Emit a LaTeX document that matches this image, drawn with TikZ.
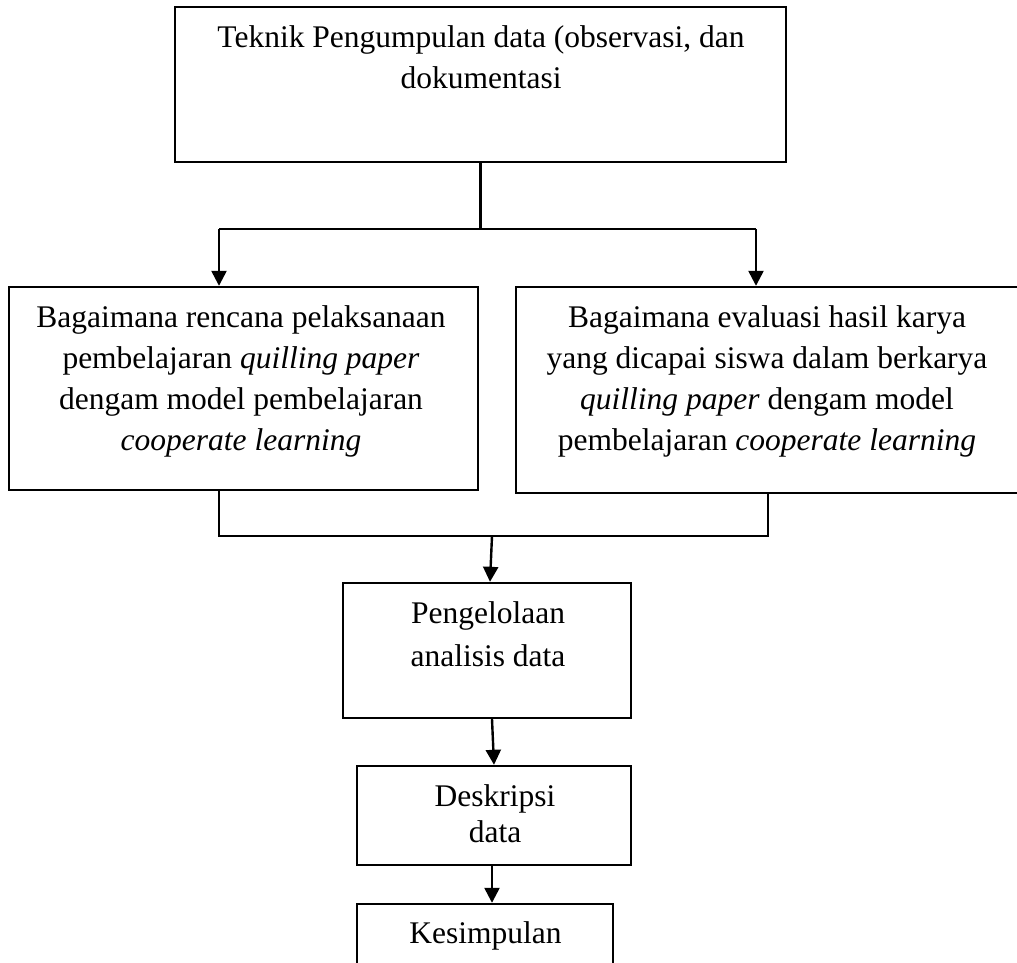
\documentclass[tikz,border=0pt]{standalone}
\usepackage{fontspec}
\setmainfont{Liberation Serif}
\usetikzlibrary{arrows.meta}
\begin{document}
\begin{tikzpicture}[x=1pt,y=-1pt,
  box/.style={draw, line width=2.4pt, rectangle, inner sep=0pt},
  lbl/.style={align=center, inner sep=0pt, anchor=base},
  conn/.style={line width=2.4pt},
  arr/.style={line width=2.4pt, -{Triangle[length=15pt,width=15pt]}}]
\useasboundingbox (0,0) rectangle (1017,962);
\clip (0,0) rectangle (1017,962);
% boxes
\node[box, minimum width=611pt, minimum height=155pt] (top) at (480.5,84.5) {};
\node[box, minimum width=469pt, minimum height=203pt] (left) at (243.5,388.5) {};
\node[box, minimum width=512pt, minimum height=206pt] (right) at (772,390) {};
\node[box, minimum width=288pt, minimum height=135pt] (peng) at (487,650.5) {};
\node[box, minimum width=274pt, minimum height=99pt] (desk) at (494,815.5) {};
\node[box, minimum width=256pt, minimum height=96pt] (kes) at (485,952) {};
% texts (anchor base = baseline of the last line)
\node[lbl, font=\fontsize{31.5}{41}\selectfont] (toptxt) at (481,88)
  {Teknik Pengumpulan data (observasi, dan\\dokumentasi};
\node[lbl, font=\fontsize{31.5}{41}\selectfont] (lefttxt) at (241,450)
  {Bagaimana rencana pelaksanaan\\pembelajaran \textit{quilling paper}\\dengam model pembelajaran\\\textit{cooperate learning}};
\node[lbl, font=\fontsize{31.5}{41}\selectfont] (righttxt) at (767,450)
  {Bagaimana evaluasi hasil karya\\yang dicapai siswa dalam berkarya\\\textit{quilling paper} dengam model\\pembelajaran \textit{cooperate learning}};
\node[lbl, font=\fontsize{31.5}{43}\selectfont] (pengtxt) at (488,666)
  {Pengelolaan\\analisis data};
\node[lbl, font=\fontsize{31.5}{36}\selectfont] (desktxt) at (495,842)
  {Deskripsi\\data};
\node[lbl, font=\fontsize{31.5}{41}\selectfont] (kestxt) at (485.5,943)
  {Kesimpulan};
% connectors
\coordinate (j1) at (480.5,229);
\coordinate (jL) at (219,229);
\coordinate (jR) at (756,229);
\draw[conn] (top.south) -- (j1);
\draw[conn] (jL) -- (jR);
\draw[arr] (jL) -- (jL |- left.north);
\draw[arr] (jR) -- (jR |- right.north);
\coordinate (bL) at (219,536);
\coordinate (bR) at (768,536);
\coordinate (bM) at (492,536);
\draw[conn] (bL |- left.south) -- (bL) -- (bR) -- (bR |- right.south);
\draw[arr] (bM) -- ([xshift=3pt]peng.north);
\draw[arr] ([xshift=5pt]peng.south) -- (desk.north);
\draw[arr] ([xshift=-2pt]desk.south) -- ([xshift=7pt]kes.north);
\end{tikzpicture}
\end{document}
